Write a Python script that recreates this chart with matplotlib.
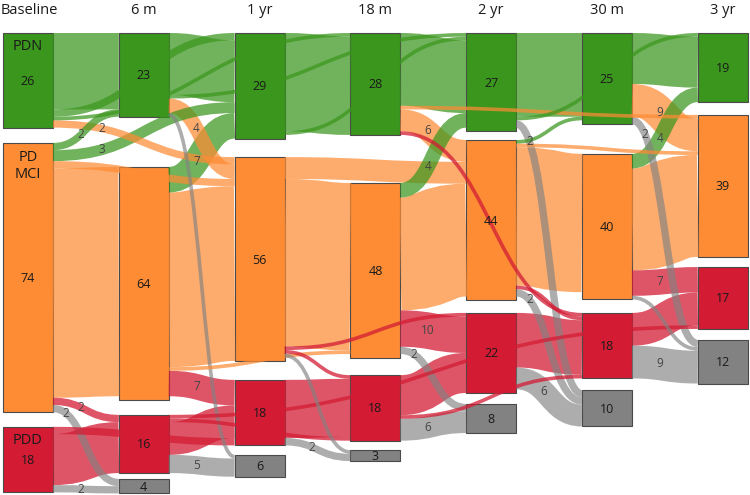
import numpy as np
import matplotlib
matplotlib.use("Agg")
import matplotlib.pyplot as plt
from matplotlib.path import Path
from matplotlib.patches import PathPatch, Rectangle

plt.rcParams['font.family'] = ['Open Sans', 'DejaVu Sans']

# ---------------- data ----------------
stages = ["Baseline", "6 m", "1 yr", "18 m", "2 yr", "30 m", "3 yr"]
categories = ["PDN", "MCI", "PDD", "OUT"]
category_labels = ["PDN", "PD\nMCI", "PDD", ""]

node_pdn = [26, 23, 29, 28, 27, 25, 19]
node_mci = [74, 64, 56, 48, 44, 40, 39]
node_pdd = [18, 16, 18, 18, 22, 18, 17]
node_out = [0, 4, 6, 3, 8, 10, 12]

# flows: (source category, target stage index, target category, value)
flows_baseline = [
    ("PDN", 1, "PDN", 21), ("PDN", 2, "PDN", 2), ("PDN", 3, "PDN", 1),
    ("PDN", 2, "MCI", 2),
    ("MCI", 1, "PDN", 2), ("MCI", 2, "PDN", 3), ("MCI", 2, "MCI", 2),
    ("MCI", 1, "MCI", 63), ("MCI", 1, "PDD", 2), ("MCI", 1, "OUT", 2),
    ("PDD", 1, "PDD", 14), ("PDD", 2, "PDD", 2), ("PDD", 1, "OUT", 2),
]
flows_6m = [
    ("PDN", 2, "PDN", 17), ("PDN", 4, "PDN", 1), ("PDN", 2, "MCI", 4),
    ("PDN", 2, "OUT", 1),
    ("MCI", 2, "PDN", 7), ("MCI", 2, "MCI", 48), ("MCI", 3, "MCI", 1),
    ("MCI", 2, "PDD", 7),
    ("PDD", 2, "PDD", 9), ("PDD", 3, "PDD", 1), ("PDD", 6, "PDD", 1),
    ("PDD", 2, "OUT", 5),
]
flows_1yr = [
    ("PDN", 3, "PDN", 27), ("PDN", 4, "PDN", 1),
    ("MCI", 4, "MCI", 6), ("MCI", 3, "MCI", 46), ("MCI", 4, "PDD", 1),
    ("MCI", 3, "PDD", 1), ("MCI", 3, "OUT", 1),
    ("PDD", 3, "PDD", 16), ("PDD", 3, "OUT", 2),
]
flows_18m = [
    ("PDN", 4, "PDN", 20), ("PDN", 4, "MCI", 6), ("PDN", 5, "PDD", 1),
    ("PDN", 6, "MCI", 1),
    ("MCI", 4, "PDN", 4), ("MCI", 4, "MCI", 31), ("MCI", 4, "PDD", 10),
    ("MCI", 4, "OUT", 2),
    ("PDD", 4, "PDD", 11), ("PDD", 5, "PDD", 1), ("PDD", 4, "OUT", 6),
]
flows_2yr = [
    ("PDN", 5, "PDN", 23), ("PDN", 6, "PDN", 1), ("PDN", 5, "OUT", 2),
    ("MCI", 5, "PDN", 1), ("MCI", 6, "MCI", 1), ("MCI", 5, "MCI", 38),
    ("MCI", 5, "PDD", 1), ("MCI", 5, "OUT", 2),
    ("PDD", 5, "PDD", 15), ("PDD", 5, "OUT", 6),
]
flows_30m = [
    ("PDN", 6, "PDN", 14), ("PDN", 6, "MCI", 9), ("PDN", 6, "OUT", 2),
    ("MCI", 6, "PDN", 4), ("MCI", 6, "MCI", 28), ("MCI", 6, "PDD", 7),
    ("MCI", 6, "OUT", 1),
    ("PDD", 6, "PDD", 9), ("PDD", 6, "OUT", 9),
]

# ---------------- style / layout ----------------
node_colors = {"PDN": "#3a961d", "MCI": "#fd8c35", "PDD": "#d31c34", "OUT": "#828282"}
link_alpha = {"PDN": 0.72, "MCI": 0.72, "PDD": 0.75, "OUT": 0.65}
node_gaps = [[4.2, 4.0], [13.8, 4.1, 1.6], [5.1, 5.2, 2.6], [13.2, 4.8, 2.6],
             [2.4, 3.5, 3.0], [8.2, 3.7, 3.2], [3.5, 2.8, 3.0]]
SCALE = 3.64      # px per patient
TOP = 33.0
X0, DX, W = 3.0, 115.8, 50.0
DPI = 100

node_vals = {"PDN": node_pdn, "MCI": node_mci, "PDD": node_pdd, "OUT": node_out}
all_flows = [flows_baseline, flows_6m, flows_1yr, flows_18m, flows_2yr, flows_30m]

fig = plt.figure(figsize=(7.5, 4.95), dpi=DPI)
ax = fig.add_axes([0, 0, 1, 1])
ax.set_xlim(0, 750)
ax.set_ylim(495, 0)
ax.axis("off")

# node layout
node_y0 = {}
for s in range(len(stages)):
    y = 0.0
    gi = 0
    first = True
    for c in categories:
        v = node_vals[c][s]
        if v == 0:
            continue
        if not first:
            y += node_gaps[s][gi]
            gi += 1
        node_y0[(s, c)] = y
        y += v
        first = False

def px(u):
    return TOP + SCALE * u

def colx(s):
    return X0 + DX * s

# links
links = []
for s, fl in enumerate(all_flows):
    for (sc, ts, tc, v) in fl:
        links.append(dict(s=s, sc=sc, t=ts, tc=tc, v=v))

out_groups = {}
in_groups = {}
for L in links:
    out_groups.setdefault((L["s"], L["sc"]), []).append(L)
    in_groups.setdefault((L["t"], L["tc"]), []).append(L)
for key, grp in out_groups.items():
    grp.sort(key=lambda L: (node_y0[(L["t"], L["tc"])], L["t"]))
    off = node_y0[key]
    for L in grp:
        L["sy"] = off
        off += L["v"]
for key, grp in in_groups.items():
    grp.sort(key=lambda L: (node_y0[(L["s"], L["sc"])], L["s"]))
    off = node_y0[key]
    for L in grp:
        L["ty"] = off
        off += L["v"]

# nodes
for (s, c), y0 in node_y0.items():
    v = node_vals[c][s]
    ax.add_patch(Rectangle((colx(s), px(y0)), W, v * SCALE, facecolor=node_colors[c],
                           edgecolor="#4a4a4a", linewidth=0.8, zorder=1))

def bez(p0, p1, p2, p3, t):
    return ((1 - t) ** 3) * p0 + 3 * ((1 - t) ** 2) * t * p1 + 3 * (1 - t) * t * t * p2 + t ** 3 * p3

for L in sorted(links, key=lambda L: -L["v"]):
    xs = colx(L["s"]) + W
    xt = colx(L["t"])
    xm = (xs + xt) / 2
    ys = px(L["sy"] + L["v"] / 2)
    yt = px(L["ty"] + L["v"] / 2)
    verts = [(xs, ys), (xm, ys), (xm, yt), (xt, yt)]
    codes = [Path.MOVETO, Path.CURVE4, Path.CURVE4, Path.CURVE4]
    lw = L["v"] * SCALE * 72.0 / DPI
    ax.add_patch(PathPatch(Path(verts, codes), facecolor="none",
                           edgecolor=node_colors[L["tc"]], linewidth=lw,
                           capstyle="butt", alpha=link_alpha[L["tc"]], zorder=2))
    # value label on transitions
    if L["v"] >= 2 and L["sc"] != L["tc"]:
        if L["t"] - L["s"] > 1:
            xl = xs + 0.27 * (xt - xs)
        elif L["tc"] == "OUT" and L["sc"] != "PDD":
            xl = xs + 0.2 * (xt - xs)
        else:
            xl = xs + 0.42 * (xt - xs)
        tt = np.linspace(0, 1, 400)
        xx = bez(xs, xm, xm, xt, tt)
        i = np.argmin(np.abs(xx - xl))
        yc = bez(ys, ys, yt, yt, tt[i])
        ax.text(xx[i], yc, str(L["v"]), ha="center", va="center", fontsize=8.5,
                color="#444444", zorder=5)

# node texts
for (s, c), y0 in node_y0.items():
    v = node_vals[c][s]
    xc = colx(s) + W / 2
    ax.text(xc, px(y0 + v / 2) + 1, str(v), ha="center", va="center", fontsize=9,
            color="#1a1a1a", zorder=6)
    lab = category_labels[categories.index(c)]
    if s == 0 and lab:
        nl = lab.count("\n")
        ax.text(xc, px(y0) + 14 + nl * 9, lab, ha="center", va="center", fontsize=10.5,
                color="#1a1a1a", linespacing=1.2, zorder=6)

for s, name in enumerate(stages):
    if s == 0:
        ax.text(1, 10, name, ha="left", va="center", fontsize=10.5, color="#1a1a1a")
    else:
        ax.text(colx(s) + W / 2, 10, name, ha="center", va="center", fontsize=10.5,
                color="#1a1a1a")

fig.savefig("out.png", dpi=DPI)
